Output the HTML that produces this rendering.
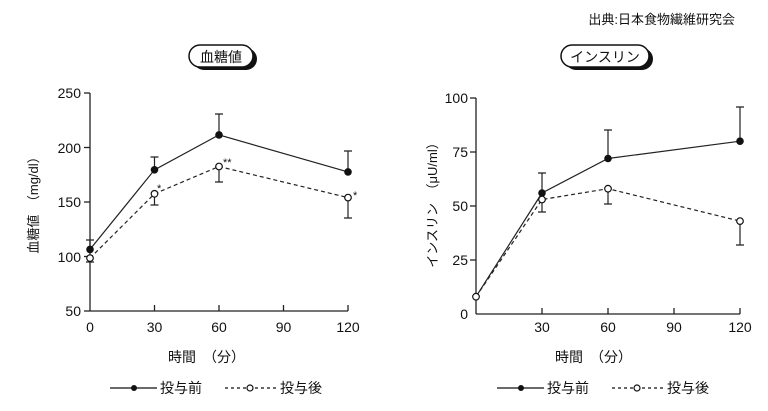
<!DOCTYPE html>
<html><head><meta charset="utf-8"><style>
html,body{margin:0;padding:0;background:#fff;}
svg{display:block;font-family:"Liberation Sans","Noto Sans CJK JP",sans-serif;}
</style></head><body>
<svg width="768" height="411" viewBox="0 0 768 411" xmlns="http://www.w3.org/2000/svg">
<text x="735" y="24" font-size="13" text-anchor="end" fill="#111">出典:日本食物繊維研究会</text>

<g>
<rect x="193" y="48" width="64" height="22" rx="11" fill="#111"/>
<rect x="189" y="45" width="64" height="22" rx="11" fill="#fff" stroke="#111" stroke-width="1.5"/>
<text x="221" y="62" font-size="14" text-anchor="middle" fill="#111">血糖値</text>

<g stroke="#222" stroke-width="1.3" fill="none">
<line x1="90" y1="93" x2="90" y2="311"/>
<line x1="90" y1="311" x2="348" y2="311"/>
<line x1="84" y1="93" x2="90" y2="93"/><line x1="84" y1="147.5" x2="90" y2="147.5"/><line x1="84" y1="202" x2="90" y2="202"/><line x1="84" y1="256.5" x2="90" y2="256.5"/><line x1="84" y1="311" x2="90" y2="311"/>
<line x1="154.5" y1="305" x2="154.5" y2="311"/><line x1="219" y1="305" x2="219" y2="311"/><line x1="283.5" y1="305" x2="283.5" y2="311"/><line x1="348" y1="305" x2="348" y2="311"/>
</g>
<g font-size="14" fill="#111" text-anchor="end">
<text x="81" y="98">250</text><text x="81" y="153">200</text><text x="81" y="207">150</text><text x="81" y="262">100</text><text x="81" y="316">50</text>
</g>
<g font-size="14" fill="#111" text-anchor="middle">
<text x="90" y="332">0</text><text x="154.5" y="332">30</text><text x="219" y="332">60</text><text x="283.5" y="332">90</text><text x="348" y="332">120</text>
</g>
<text transform="translate(38,202) rotate(-90)" font-size="13" text-anchor="middle" fill="#111">血糖値　（mg/dl）</text>

<g stroke="#222" stroke-width="1.2" fill="none">
<path d="M90 249V240M86 240H94M154.5 169V157M150.5 157H158.5M219 134V114M215 114H223M348 171V151M344 151H352"/>
<path d="M90 258V262M86 262H94M154.5 195V205M150.5 205H158.5M219 167V182M215 182H223M348 199V218M344 218H352"/>
<polyline points="90,249.4 154.5,169.8 219,134.9 348,171.9"/>
<polyline points="90,258.1 154.5,193.8 219,166.5 348,197.6" stroke-dasharray="4,3"/>
</g>
<g fill="#111"><circle cx="90" cy="249.4" r="3.8"/><circle cx="154.5" cy="169.8" r="3.8"/><circle cx="219" cy="134.9" r="3.8"/><circle cx="348" cy="171.9" r="3.8"/></g>
<g fill="#fff" stroke="#111" stroke-width="1.2"><circle cx="90" cy="258.1" r="3.3"/><circle cx="154.5" cy="193.8" r="3.3"/><circle cx="219" cy="166.5" r="3.3"/><circle cx="348" cy="197.6" r="3.3"/></g>
<g font-size="11" fill="#111"><text x="157" y="192">*</text><text x="223" y="166">**</text><text x="353" y="199">*</text></g>

<text x="168" y="362" font-size="14" fill="#111">時間　（分）</text>
<line x1="110" y1="388" x2="157" y2="388" stroke="#111" stroke-width="1.3"/>
<circle cx="134" cy="388" r="3" fill="#111"/>
<text x="160" y="393" font-size="14" fill="#111">投与前</text>
<line x1="225" y1="388" x2="278" y2="388" stroke="#111" stroke-width="1.3" stroke-dasharray="3,3"/>
<circle cx="250" cy="388" r="3" fill="#fff" stroke="#111" stroke-width="1.2"/>
<text x="280" y="393" font-size="14" fill="#111">投与後</text>
</g>

<g>
<rect x="565" y="48" width="88" height="22" rx="11" fill="#111"/>
<rect x="561" y="45" width="88" height="22" rx="11" fill="#fff" stroke="#111" stroke-width="1.5"/>
<text x="605" y="62" font-size="14" text-anchor="middle" fill="#111">インスリン</text>

<g stroke="#222" stroke-width="1.3" fill="none">
<line x1="476" y1="98" x2="476" y2="314"/>
<line x1="476" y1="314" x2="740" y2="314"/>
<line x1="470" y1="98" x2="476" y2="98"/><line x1="470" y1="152" x2="476" y2="152"/><line x1="470" y1="206" x2="476" y2="206"/><line x1="470" y1="260" x2="476" y2="260"/>
<line x1="542" y1="308" x2="542" y2="314"/><line x1="608" y1="308" x2="608" y2="314"/><line x1="674" y1="308" x2="674" y2="314"/><line x1="740" y1="308" x2="740" y2="314"/>
</g>
<g font-size="14" fill="#111" text-anchor="end">
<text x="468" y="103">100</text><text x="468" y="157">75</text><text x="468" y="211">50</text><text x="468" y="265">25</text><text x="468" y="319">0</text>
</g>
<g font-size="14" fill="#111" text-anchor="middle">
<text x="542" y="332">30</text><text x="608" y="332">60</text><text x="674" y="332">90</text><text x="740" y="332">120</text>
</g>
<text transform="translate(437,202) rotate(-90)" font-size="13" text-anchor="middle" fill="#111">インスリン　（μU/ml）</text>

<g stroke="#222" stroke-width="1.2" fill="none">
<path d="M542 193V173M538 173H546M608 158V130M604 130H612M740 141V107M736 107H744"/>
<path d="M542 200V212M538 212H546M608 189V204M604 204H612M740 221V245M736 245H744"/>
<polyline points="476,296.7 542,193 608,158.5 740,141.2"/>
<polyline points="476,296.7 542,199.5 608,188.7 740,221.1" stroke-dasharray="4,3"/>
</g>
<g fill="#111"><circle cx="542" cy="193" r="3.8"/><circle cx="608" cy="158.5" r="3.8"/><circle cx="740" cy="141.2" r="3.8"/></g>
<g fill="#fff" stroke="#111" stroke-width="1.2"><circle cx="476" cy="296.7" r="3.3"/><circle cx="542" cy="199.5" r="3.3"/><circle cx="608" cy="188.7" r="3.3"/><circle cx="740" cy="221.1" r="3.3"/></g>

<text x="555" y="362" font-size="14" fill="#111">時間　（分）</text>
<line x1="497" y1="388" x2="544" y2="388" stroke="#111" stroke-width="1.3"/>
<circle cx="521" cy="388" r="3" fill="#111"/>
<text x="547" y="393" font-size="14" fill="#111">投与前</text>
<line x1="612" y1="388" x2="665" y2="388" stroke="#111" stroke-width="1.3" stroke-dasharray="3,3"/>
<circle cx="637" cy="388" r="3" fill="#fff" stroke="#111" stroke-width="1.2"/>
<text x="667" y="393" font-size="14" fill="#111">投与後</text>
</g>
</svg>
</body></html>
